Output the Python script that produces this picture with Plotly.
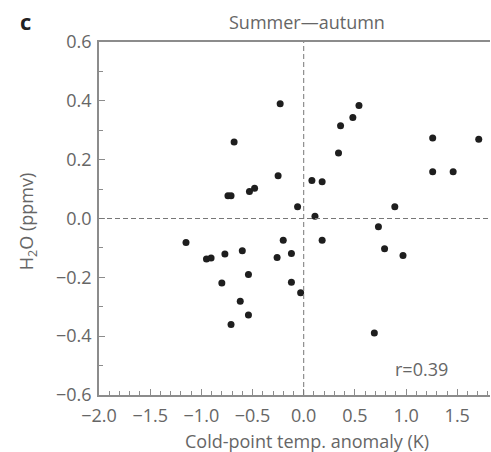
import plotly.graph_objects as go

# Cold-point temperature anomaly (K)
temp_anomaly = [-0.23, -0.68, -0.74, -0.71, -0.53, -0.48, -0.25, -0.06,
                0.54, 0.48, 0.36, 0.34, 0.08, 0.18, 0.11, 0.89,
                1.26, 1.26, 1.46, 1.71, -1.15, -0.95, -0.905, -0.77,
                -0.60, -0.20, -0.26, -0.12, -0.80, -0.54, -0.12, -0.03,
                -0.62, -0.54, -0.71, 0.73, 0.18, 0.79, 0.97, 0.69]
# H2O anomaly (ppmv)
h2o_anomaly = [0.39, 0.26, 0.077, 0.077, 0.092, 0.103, 0.145, 0.04,
               0.384, 0.343, 0.315, 0.223, 0.129, 0.125, 0.008, 0.04,
               0.274, 0.159, 0.159, 0.269, -0.082, -0.138, -0.134, -0.121,
               -0.110, -0.074, -0.133, -0.119, -0.219, -0.19, -0.217, -0.252,
               -0.281, -0.328, -0.36, -0.028, -0.074, -0.103, -0.126, -0.389]

panel_label = "c"
title_text = "Summer\u2014autumn"
x_title = "Cold-point temp. anomaly (K)"
y_title = "H<sub>2</sub>O (ppmv)"
r_text = "r=0.39"

FONT = "Open Sans"
GRAY = "#666666"
AXIS = "#8c8c8c"
FS = 18

fig = go.Figure()
fig.add_trace(go.Scatter(
    x=temp_anomaly, y=h2o_anomaly, mode="markers",
    marker=dict(size=7, color="#1e1e1e"),
    hoverinfo="skip", showlegend=False,
))

fig.update_layout(
    width=491, height=452,
    margin=dict(l=99, r=1, t=42, b=57),
    paper_bgcolor="white", plot_bgcolor="white",
    font=dict(family=FONT, size=FS, color=GRAY),
    xaxis=dict(
        range=[-2.0, 1.82], showgrid=False, zeroline=False,
        showline=True, linecolor=AXIS, linewidth=1.5, mirror=True,
        ticks="inside", ticklen=6, tickwidth=1.2, tickcolor=AXIS,
        dtick=0.5, tick0=0, tickformat=".1f", ticklabelstandoff=4,
        minor=dict(ticks="inside", ticklen=4, dtick=0.1, tickcolor=AXIS, tickwidth=1),
        tickfont=dict(size=FS, color=GRAY),
    ),
    yaxis=dict(
        range=[-0.6, 0.6], showgrid=False, zeroline=False,
        showline=True, linecolor=AXIS, linewidth=1.5,
        ticks="inside", ticklen=6, tickwidth=1.2, tickcolor=AXIS,
        dtick=0.2, tick0=0, tickformat=".1f", ticklabelstandoff=2,
        minor=dict(ticks="inside", ticklen=4, dtick=0.1, tickcolor=AXIS, tickwidth=1),
        tickfont=dict(size=FS, color=GRAY),
    ),
    shapes=[
        dict(type="line", xref="x", yref="paper", x0=0, x1=0, y0=0, y1=1,
             line=dict(color="#777777", width=1, dash="5px,3px")),
        dict(type="line", xref="paper", yref="y", x0=0, x1=1, y0=0, y1=0,
             line=dict(color="#777777", width=1, dash="5px,3px")),
    ],
    annotations=[
        dict(text=panel_label, xref="paper", yref="paper", x=-(99 - 26) / 390, y=1 + (42 - 21) / 353,
             showarrow=False, font=dict(size=22, color="#222222", family=FONT, weight="bold"),
             xanchor="center", yanchor="middle"),
        dict(text=title_text, xref="x", yref="paper", x=0.03, y=1 + (42 - 22) / 353,
             showarrow=False, font=dict(size=FS, color=GRAY), xanchor="center", yanchor="middle"),
        dict(text=x_title, xref="x", yref="paper", x=0.03, y=-(441 - 394.7) / 353,
             showarrow=False, font=dict(size=FS, color=GRAY), xanchor="center", yanchor="middle"),
        dict(text=y_title, xref="paper", yref="y", x=-(99 - 28) / 390, y=-0.01,
             showarrow=False, textangle=-90, font=dict(size=FS, color=GRAY),
             xanchor="center", yanchor="middle"),
        dict(text=r_text, xref="x", yref="y", x=1.155, y=-0.513,
             showarrow=False, font=dict(size=FS, color=GRAY), xanchor="center", yanchor="middle"),
    ],
)

fig.write_html("out.html")
